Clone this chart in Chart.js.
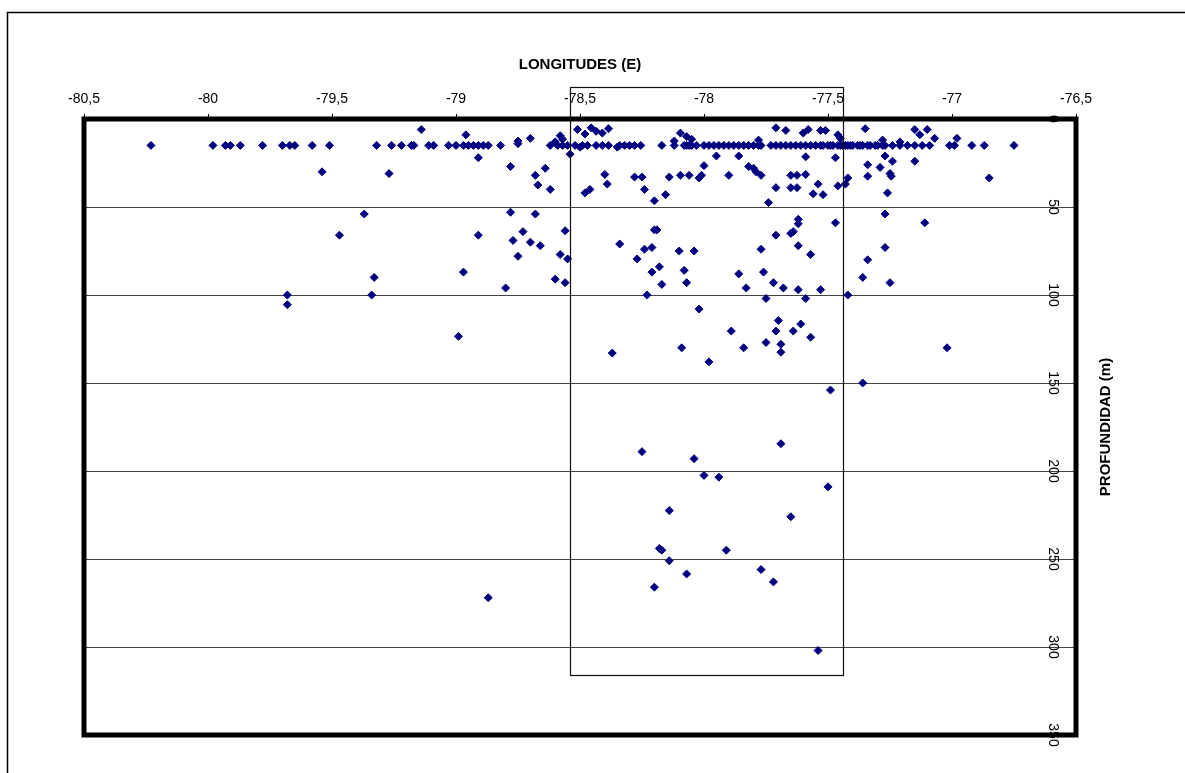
<!DOCTYPE html>
<html>
<head>
<meta charset="utf-8">
<title>Longitudes vs profundidad</title>
<script src="https://cdn.jsdelivr.net/npm/chart.js@4/dist/chart.umd.min.js"></script>
<style>
  html, body { margin: 0; padding: 0; background: #fff; }
  #wrap { width: 1185px; height: 773px; }
</style>
</head>
<body>
<div id="wrap"><canvas id="chart" width="1185" height="773"></canvas></div>
<script>
// ---- axes ----
const X_TICKS = [-80.5, -80, -79.5, -79, -78.5, -78, -77.5, -77, -76.5];
const Y_TICKS = [0, 50, 100, 150, 200, 250, 300, 350];
const X_TITLE = 'LONGITUDES (E)';
const Y_TITLE = 'PROFUNDIDAD (m)';

// study zone box (longitude, depth)
const BOX_LON = [-78.54, -77.44];
const BOX_DEPTH = [-18, 316];

// ---- data: surface band ----
const surfaceLon = [
  -80.23, -79.98, -79.93, -79.91, -79.87, -79.78, -79.70, -79.67, -79.65, -79.58, -79.51,
  -79.32, -79.26, -79.22, -79.18, -79.17, -79.11, -79.09, -79.03, -79.00, -78.97, -78.95,
  -78.93, -78.91, -78.89, -78.87, -78.82, -78.75, -78.62, -78.59, -78.57, -78.55,
  -78.52, -78.50, -78.49, -78.47, -78.435, -78.41, -78.385, -78.35, -78.34, -78.32,
  -78.30, -78.28, -78.255, -78.17, -78.12,
  -78.08, -78.07, -78.06, -78.05, -78.03, -78.00, -77.98, -77.96, -77.94, -77.92,
  -77.90, -77.88, -77.86, -77.84, -77.82, -77.80, -77.78, -77.77,
  -77.73, -77.71, -77.69, -77.67, -77.65, -77.63, -77.61, -77.59, -77.57, -77.55,
  -77.53, -77.52, -77.50, -77.49, -77.48, -77.46, -77.45, -77.44, -77.43, -77.42,
  -77.41, -77.40, -77.38, -77.37, -77.36, -77.34, -77.33, -77.31, -77.30, -77.28, -77.27,
  -77.24, -77.21, -77.18, -77.15, -77.12, -77.09, -77.01, -76.99, -76.92, -76.87, -76.75
];
const surfaceDepth = [
  15, 15, 15, 15, 15, 15, 15, 15, 15, 15, 15,
  15, 15, 15, 15, 15, 15, 15, 15, 15, 15, 15,
  15, 15, 15, 15, 15, 14, 15, 15, 15, 15,
  15, 16, 15, 15, 15, 15, 15, 16, 15, 15,
  15, 15, 15, 15, 15,
  15, 15, 15, 15, 15, 15, 15, 15, 15, 15,
  15, 15, 15, 15, 15, 15, 15, 15,
  15, 15, 15, 15, 15, 15, 15, 15, 15, 15,
  15, 15, 15, 15, 15, 15, 15, 15, 15, 15,
  15, 15, 15, 15, 15, 15, 15, 15, 15, 15, 15,
  15, 15, 15, 15, 15, 15, 15, 15, 15, 15, 15
];

// ---- data: shallow (< 50 m) ----
const shallowLon = [
  -79.14, -78.96, -78.75, -78.70, -78.58, -78.57, -78.60, -78.51,
  -78.48, -78.455, -78.435, -78.41, -78.385,
  -78.095, -78.07, -78.12, -78.05,
  -77.78, -77.71, -77.67, -77.60, -77.58, -77.53, -77.51, -77.46, -77.45, -77.35,
  -77.28, -77.21, -77.15, -77.13, -77.10, -77.07, -76.98,
  -79.54, -79.27, -78.91, -78.54, -78.78, -78.64, -78.68, -78.67, -78.62,
  -77.95, -77.86, -77.59, -78.00, -77.82, -77.80, -77.79, -77.77, -77.90, -78.01,
  -78.02, -78.06, -78.095, -78.14, -78.28, -78.25, -78.40, -78.39, -78.24, -78.155,
  -78.20, -78.46, -78.48, -77.71, -77.74, -77.65, -77.625, -77.59, -77.65, -77.625,
  -77.56, -77.54, -77.52,
  -77.47, -77.27, -77.24, -77.15, -77.34, -77.29, -77.25, -77.245, -77.34, -76.85,
  -77.26, -77.42, -77.43, -77.46
];
const shallowDepth = [
  6, 9, 12.5, 11, 9.5, 11.5, 13, 6,
  8.5, 5, 7, 8, 5.5,
  8, 10, 12.5, 11.5,
  12, 5, 6.5, 8, 6, 6.5, 6.5, 9, 11, 5.5,
  12, 13, 6, 9, 6, 11, 11,
  30, 31, 22, 20, 27, 28, 32, 37.5, 40,
  21, 21, 21.5, 26.5, 27, 28, 30, 32, 32, 32,
  33.5, 32, 32, 33, 33, 33, 31.5, 37, 40, 43,
  46.5, 40, 42, 39, 47.5, 32, 32, 31.5, 39, 39,
  42.5, 37, 43,
  22, 21, 24, 24, 26, 27.5, 31, 32.5, 32.5, 33.5,
  42, 33.5, 37, 38
];

// ---- data: intermediate (50-110 m) ----
const midLon = [
  -79.37, -79.47, -78.91, -78.78, -78.68, -78.73, -78.77, -78.70, -78.66, -78.75,
  -78.56, -78.58, -78.55, -78.97, -79.33, -79.34, -79.68, -79.68, -78.80, -78.60, -78.56,
  -78.34, -78.27, -78.24, -78.21, -78.20, -78.19, -78.18, -78.21, -78.17, -78.23,
  -78.10, -78.04, -78.08, -78.07, -78.02, -77.86, -77.83, -77.77, -77.71, -77.76,
  -77.72, -77.68, -77.75, -77.65, -77.64, -77.62, -77.62, -77.62, -77.57, -77.62,
  -77.59, -77.53, -77.47, -77.42, -77.36, -77.34, -77.27, -77.27, -77.25, -77.11
];
const midDepth = [
  54, 66, 66, 53, 54, 64, 69, 70, 72, 78,
  63.5, 77, 79.5, 87, 90, 100, 100, 105.5, 96, 91, 93,
  71, 79.5, 74, 73, 63, 63, 84, 87, 94, 100,
  75, 75, 86, 93, 108, 88, 96, 74, 66, 87,
  93, 96, 102, 65, 64, 57, 59.5, 72, 77, 97,
  102, 97, 59, 100, 90, 80, 73, 54, 93, 59
];

// ---- data: deep (> 110 m) ----
const deepLon = [
  -77.70, -77.61, -77.89, -77.71, -77.64, -77.57, -77.75, -77.69, -77.69, -77.84,
  -78.09, -77.98, -78.37, -77.02, -78.99, -77.36, -77.49, -77.69, -78.25, -78.04,
  -78.00, -77.94, -77.50, -78.14, -77.65, -78.18, -78.17, -77.91, -78.14, -78.07,
  -77.77, -77.72, -78.20, -78.87, -77.54
];
const deepDepth = [
  114.5, 116.5, 120.5, 120.5, 120.5, 124, 127, 128, 132.5, 130,
  130, 138, 133, 130, 123.5, 150, 154, 184.5, 189, 193,
  202.5, 203.5, 209, 222.5, 226, 244, 245, 245, 251, 258.5,
  256, 263, 266, 272, 302
];

const FONT = "'Liberation Sans', Arial, sans-serif";

function pairs(lons, depths) {
  return lons.map((x, i) => ({ x: x, y: depths[i] }));
}
const points = [].concat(
  pairs(surfaceLon, surfaceDepth),
  pairs(shallowLon, shallowDepth),
  pairs(midLon, midDepth),
  pairs(deepLon, deepDepth)
);

// extra drawing: y labels (rotated), y title, frame, box
const decorations = {
  id: 'decorations',
  afterDraw(chart) {
    const ctx = chart.ctx;
    const a = chart.chartArea;
    const xs = chart.scales.x;
    const ys = chart.scales.y;

    ctx.save();
    // y tick labels, rotated clockwise, inside the plot next to the right edge
    ctx.fillStyle = '#000';
    ctx.font = '14px ' + FONT;
    ctx.textAlign = 'center';
    ctx.textBaseline = 'middle';
    ys.ticks.forEach(t => {
      const y = ys.getPixelForValue(t.value);
      ctx.save();
      ctx.translate(a.right - 23, y);
      ctx.rotate(Math.PI / 2);
      ctx.fillText(String(t.value), 0, 0);
      ctx.restore();
    });

    // y title, reading bottom to top
    ctx.save();
    ctx.font = 'bold 15px ' + FONT;
    ctx.translate(a.right + 30, (a.top + a.bottom) / 2);
    ctx.rotate(-Math.PI / 2);
    ctx.fillText(Y_TITLE, 0, 0);
    ctx.restore();

    // thick plot frame
    ctx.strokeStyle = '#000';
    ctx.lineWidth = 5;
    ctx.strokeRect(a.left, a.top, a.right - a.left, a.bottom - a.top);

    // zone box
    const bx0 = xs.getPixelForValue(BOX_LON[0]);
    const bx1 = xs.getPixelForValue(BOX_LON[1]);
    const by0 = ys.getPixelForValue(BOX_DEPTH[0]);
    const by1 = ys.getPixelForValue(BOX_DEPTH[1]);
    ctx.lineWidth = 1.2;
    ctx.strokeStyle = '#111';
    ctx.strokeRect(Math.round(bx0) + 0.5, Math.round(by0) + 0.5,
      Math.round(bx1 - bx0), Math.round(by1 - by0));

    // outer chart frame
    ctx.lineWidth = 1.5;
    ctx.strokeStyle = '#000';
    ctx.strokeRect(7.5, 12.5, 1200, 800);
    ctx.restore();
  }
};

new Chart(document.getElementById('chart'), {
  type: 'scatter',
  data: {
    datasets: [{
      data: points,
      pointStyle: 'rectRot',
      pointRadius: 4,
      pointHoverRadius: 4,
      backgroundColor: '#000080',
      borderColor: '#000080',
      borderWidth: 1
    }]
  },
  options: {
    responsive: false,
    animation: false,
    events: [],
    layout: { padding: { left: 84, right: 0, top: 0, bottom: 38 } },
    plugins: { legend: { display: false }, tooltip: { enabled: false } },
    scales: {
      x: {
        type: 'linear',
        position: 'top',
        min: -80.5,
        max: -76.5,
        afterBuildTicks: s => { s.ticks = X_TICKS.map(v => ({ value: v })); },
        afterFit: s => { s.height = 119; },
        grid: { drawOnChartArea: false, drawTicks: true, tickLength: 5, color: '#000' },
        border: { display: false },
        ticks: {
          color: '#000',
          font: { family: FONT, size: 14 },
          padding: 6,
          maxRotation: 0,
          autoSkip: false,
          callback: v => String(v).replace('.', ',')
        },
        title: {
          display: true,
          text: X_TITLE,
          color: '#000',
          font: { family: FONT, size: 15, weight: 'bold' },
          padding: { top: 56, bottom: 0 }
        }
      },
      y: {
        type: 'linear',
        position: 'right',
        reverse: true,
        min: 0,
        max: 350,
        afterBuildTicks: s => { s.ticks = Y_TICKS.map(v => ({ value: v })); },
        afterFit: s => { s.width = 109; },
        grid: { color: '#444', lineWidth: 1, drawTicks: false },
        border: { display: false },
        ticks: { display: false }
      }
    }
  },
  plugins: [decorations]
});
</script>
</body>
</html>
